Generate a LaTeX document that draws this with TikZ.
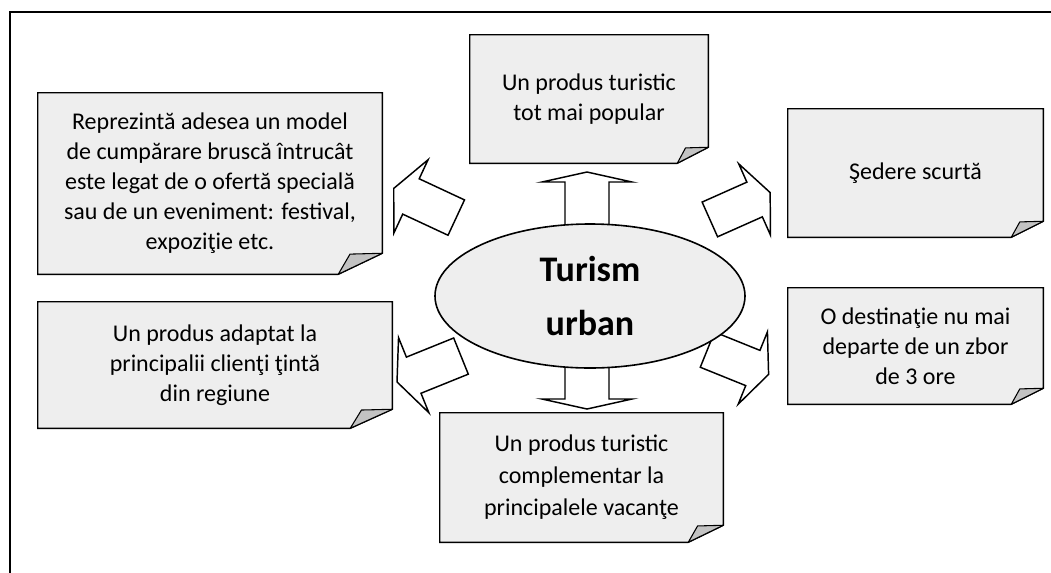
\documentclass[tikz,border=0pt]{standalone}
\usepackage{fontspec}
\setmainfont{Carlito}
\usetikzlibrary{shapes.geometric,backgrounds}
\definecolor{Paper}{HTML}{EEEEEE}
\definecolor{Fold}{HTML}{C3C3C3}

\tikzset{
  note/.style={inner sep=0pt,align=center,font=\fontsize{18}{22.5}\selectfont},
  notebox/.style={fill=Paper,draw=black,line width=1.1pt,line join=miter},
  foldbox/.style={fill=Fold,draw=black,line width=0.8pt,line join=round},
  hub/.style={ellipse,fill=Paper,draw=black,line width=1.2pt,inner sep=0pt,
    minimum width=232.5pt,minimum height=108pt,align=center,
    font=\fontsize{27}{40}\selectfont\bfseries},
  blockarrow/.style={fill=white,draw=black,line width=1.1pt,line join=miter}
}

\begin{document}
\begin{tikzpicture}[x=0.75pt,y=-0.75pt]
  \useasboundingbox (0,0) rectangle (1051,572);
  % frame
  \draw[line width=1.5pt] (10,590) -- (10,12) -- (1070,12);

  % block arrows: centre / angle / length / shaft / head width / head length
  \foreach \cx/\cy/\a/\L/\s/\H/\h in {425/203/155/69/39/81/19, 740/206/24/66/38/78/17,
      429/369/202/69/39/81/18, 738/362/338/66/38/78/17,
      587/203.5/90/63/44/90/10, 587/382/270/54/44/90/10}{
    \draw[blockarrow,shift={(\cx,\cy)},rotate=\a]
      ({-\L/2},{-\s/2}) -- ({\L/2-\h},{-\s/2}) -- ({\L/2-\h},{-\H/2}) -- ({\L/2},0)
      -- ({\L/2-\h},{\H/2}) -- ({\L/2-\h},{\s/2}) -- ({-\L/2},{\s/2}) -- cycle;
  }

  \node[hub] (turism) at (590,296) {Turism\\urban};

  \node[note,minimum width=258pt,minimum height=135.75pt] (model) at (210,183.5)
    {Reprezintă adesea un model\\de cumpărare bruscă întrucât\\este legat de o ofertă specială\\sau de un eveniment: festival,\\expoziţie etc.};
  \node[note,minimum width=178.5pt,minimum height=96pt] (popular) at (589,99)
    {Un produs turistic\\tot mai popular};
  \node[note,minimum width=191.25pt,minimum height=96pt] (sedere) at (915.5,173)
    {Şedere scurtă};
  \node[note,minimum width=191.25pt,minimum height=87pt] (zbor) at (915.5,346)
    {O destinaţie nu mai\\departe de un zbor\\de 3 ore};
  \node[note,minimum width=265.5pt,minimum height=94.5pt] (clienti) at (215,365)
    {Un produs adaptat la\\principalii clienţi ţintă\\din regiune};
  \node[note,minimum width=212.25pt,minimum height=96.75pt,
    font=\fontsize{18}{24}\selectfont] (vacante) at (581.5,477.5)
    {Un produs turistic\\complementar la\\principalele vacanţe};

  % paper notes with folded corner
  \begin{scope}[on background layer]
    \foreach \n/\fx/\fy in {model/44/21, popular/31/16, sedere/32/16,
        zbor/32/16, clienti/42/19, vacante/35/17}{
      \filldraw[notebox] (\n.north west) -- (\n.north east)
        -- ([yshift=\fy*0.75pt]\n.south east) -- ([xshift=-\fx*0.75pt]\n.south east)
        -- (\n.south west) -- cycle;
      \filldraw[foldbox] ([xshift=-\fx*0.75pt]\n.south east)
        -- ([xshift=-\fx*0.55pt,yshift=\fy*0.72pt]\n.south east)
        -- ([yshift=\fy*0.75pt]\n.south east) -- cycle;
    }
  \end{scope}
\end{tikzpicture}
\end{document}
